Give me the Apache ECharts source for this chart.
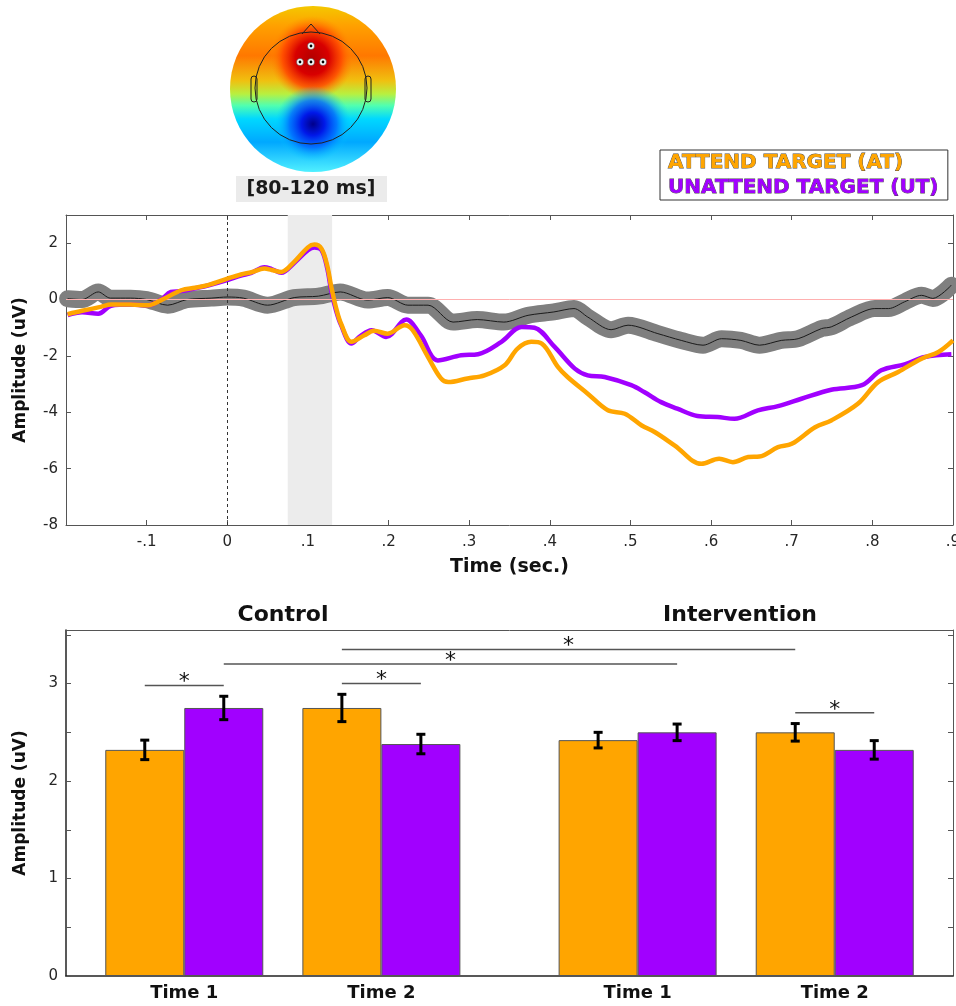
<!DOCTYPE html>
<html>
<head>
<meta charset="utf-8">
<title>Attend vs unattend target ERP</title>
<script src="https://cdn.jsdelivr.net/npm/echarts@6.0.0/dist/echarts.min.js"></script>
<style>
  html, body { margin: 0; padding: 0; background: #fff; }
  #chart { width: 956px; height: 1006px; }
</style>
</head>
<body>
<div id="chart"></div>
<script>
// ---- waveforms: [time (sec), amplitude (uV)] ----
const atWave = [
  [-0.198, -0.52], [-0.18, -0.4], [-0.157, -0.26], [-0.144, -0.18], [-0.12, -0.18],
  [-0.098, -0.2], [-0.082, -0.02], [-0.057, 0.33], [-0.04, 0.42], [-0.024, 0.51],
  [0.001, 0.75], [0.017, 0.89], [0.03, 0.97], [0.046, 1.1], [0.055, 1.05],
  [0.067, 0.98], [0.083, 1.34], [0.1, 1.85], [0.108, 1.95], [0.117, 1.8],
  [0.124, 1.2], [0.129, 0.45], [0.135, -0.3], [0.141, -0.85], [0.154, -1.5],
  [0.17, -1.27], [0.182, -1.11], [0.199, -1.21], [0.22, -0.91], [0.23, -1.09],
  [0.249, -2.04], [0.265, -2.8], [0.274, -2.93], [0.298, -2.8], [0.319, -2.69],
  [0.344, -2.33], [0.36, -1.74], [0.377, -1.5], [0.39, -1.56], [0.41, -2.39],
  [0.422, -2.75], [0.447, -3.34], [0.472, -3.93], [0.493, -4.05], [0.514, -4.47],
  [0.53, -4.7], [0.555, -5.18], [0.588, -5.83], [0.61, -5.65], [0.627, -5.77],
  [0.646, -5.59], [0.66, -5.57], [0.683, -5.24], [0.7, -5.12], [0.729, -4.53],
  [0.749, -4.29], [0.782, -3.7], [0.807, -2.93], [0.832, -2.57], [0.861, -2.1],
  [0.882, -1.86], [0.9, -1.45]
];
const utWave = [
  [-0.198, -0.55], [-0.18, -0.45], [-0.16, -0.5], [-0.144, -0.22], [-0.12, -0.18],
  [-0.098, -0.2], [-0.082, 0.0], [-0.07, 0.27], [-0.057, 0.3], [-0.04, 0.4],
  [-0.024, 0.5], [0.001, 0.7], [0.017, 0.85], [0.03, 0.95], [0.046, 1.15],
  [0.055, 1.08], [0.067, 0.95], [0.083, 1.3], [0.1, 1.75], [0.108, 1.85],
  [0.117, 1.75], [0.124, 1.1], [0.129, 0.3], [0.135, -0.4], [0.141, -0.9],
  [0.154, -1.56], [0.165, -1.3], [0.179, -1.09], [0.197, -1.33], [0.222, -0.71],
  [0.24, -1.27], [0.261, -2.16], [0.29, -1.98], [0.311, -1.94], [0.34, -1.5],
  [0.365, -0.97], [0.381, -1.0], [0.406, -1.68], [0.431, -2.45], [0.447, -2.69],
  [0.468, -2.75], [0.501, -3.04], [0.517, -3.28], [0.538, -3.64], [0.558, -3.87],
  [0.583, -4.13], [0.608, -4.17], [0.629, -4.23], [0.658, -3.93], [0.683, -3.78],
  [0.712, -3.52], [0.749, -3.2], [0.787, -3.04], [0.811, -2.51], [0.84, -2.3],
  [0.865, -2.04], [0.898, -1.94]
];
// grey trace (mean, drawn with a wide band behind it)
const greyWave = [
  [-0.198, 0.03], [-0.18, 0.0], [-0.16, 0.27], [-0.145, 0.05], [-0.12, 0.05],
  [-0.1, 0.0], [-0.074, -0.2], [-0.05, 0.0], [-0.02, 0.05], [0.0, 0.09],
  [0.02, 0.05], [0.05, -0.2], [0.083, 0.07], [0.113, 0.12], [0.14, 0.27],
  [0.174, -0.02], [0.199, 0.07], [0.224, -0.2], [0.249, -0.2], [0.28, -0.8],
  [0.31, -0.71], [0.343, -0.8], [0.373, -0.56], [0.405, -0.44], [0.43, -0.32],
  [0.447, -0.62], [0.476, -1.07], [0.497, -0.91], [0.534, -1.21], [0.563, -1.45],
  [0.59, -1.62], [0.613, -1.39], [0.637, -1.45], [0.66, -1.62], [0.687, -1.45],
  [0.708, -1.39], [0.737, -1.03], [0.749, -0.97], [0.774, -0.62], [0.803, -0.32],
  [0.82, -0.32], [0.84, -0.08], [0.861, 0.15], [0.875, 0.04], [0.898, 0.51]
];
const windowRange = [0.075, 0.13];

// ---- bar panel ----
const timeLabels = ['Time 1', 'Time 2', 'Time 1', 'Time 2'];
const groupPos = [1, 2, 3.3, 4.3];
const atMeans = [2.32, 2.75, 2.42, 2.5];
const atErr = [0.1, 0.14, 0.08, 0.09];
const utMeans = [2.75, 2.38, 2.5, 2.32];
const utErr = [0.12, 0.1, 0.085, 0.095];
// [bar a, condition a, bar b, condition b, height]; condition 0 = AT, 1 = UT
const sigPairs = [
  [0, 0, 0, 1, 2.98],
  [1, 0, 1, 1, 3.0],
  [0, 1, 2, 1, 3.2],
  [1, 0, 3, 0, 3.35],
  [3, 0, 3, 1, 2.7]
];

const ORANGE = '#ffa500';
const PURPLE = '#a100ff';
const FONT = 'DejaVu Sans';
const BAR_W = 79;

const chart = echarts.init(document.getElementById('chart'));

function xTickLabel(v) {
  if (Math.abs(v + 0.2) < 1e-9) return '';
  if (Math.abs(v) < 1e-9) return '0';
  return String(+v.toFixed(1)).replace('0.', '.');
}

function renderErrorBar(params, api) {
  const off = (api.value(3) === 0 ? -1 : 1) * BAR_W / 2;
  const top = api.coord([api.value(0), api.value(2)]);
  const bot = api.coord([api.value(0), api.value(1)]);
  const x = top[0] + off;
  const cap = 4.5;
  const style = { stroke: '#000', lineWidth: 3 };
  return {
    type: 'group',
    children: [
      { type: 'line', shape: { x1: x, y1: top[1], x2: x, y2: bot[1] }, style },
      { type: 'line', shape: { x1: x - cap, y1: top[1], x2: x + cap, y2: top[1] }, style },
      { type: 'line', shape: { x1: x - cap, y1: bot[1], x2: x + cap, y2: bot[1] }, style }
    ]
  };
}

function renderSig(params, api) {
  const a = api.coord([api.value(0), api.value(2)]);
  const b = api.coord([api.value(1), api.value(2)]);
  const xa = a[0] + (api.value(3) === 0 ? -1 : 1) * BAR_W / 2;
  const xb = b[0] + (api.value(4) === 0 ? -1 : 1) * BAR_W / 2;
  return {
    type: 'group',
    children: [
      { type: 'line', shape: { x1: xa, y1: a[1], x2: xb, y2: a[1] },
        style: { stroke: '#555', lineWidth: 1.5 } },
      { type: 'text', x: (xa + xb) / 2, y: a[1] - 3,
        style: { text: '*', font: '22px ' + FONT, fill: '#111',
                 align: 'center', verticalAlign: 'middle' } }
    ]
  };
}

const errData = [];
groupPos.forEach((x, i) => {
  errData.push([x, atMeans[i] - atErr[i], atMeans[i] + atErr[i], 0]);
  errData.push([x, utMeans[i] - utErr[i], utMeans[i] + utErr[i], 1]);
});
const sigData = sigPairs.map(s => [groupPos[s[0]], groupPos[s[2]], s[4], s[1], s[3]]);

const frame = { show: true, onZero: false, lineStyle: { color: '#555', width: 1 } };
const darkFrame = { show: true, onZero: false, lineStyle: { color: '#222', width: 1.5 } };
const tickIn = { show: true, inside: true, length: 5, lineStyle: { color: '#555' } };

// topographic map (illustration only)
const topo = [
  { type: 'circle', shape: { cx: 313, cy: 89, r: 83 },
    style: { fill: new echarts.graphic.LinearGradient(0, 0, 0, 1, [
      { offset: 0, color: '#f4c800' }, { offset: 0.12, color: '#ffa000' },
      { offset: 0.3, color: '#ff7800' }, { offset: 0.45, color: '#f0c010' },
      { offset: 0.53, color: '#b8f040' }, { offset: 0.6, color: '#50ffb0' },
      { offset: 0.68, color: '#00d8ff' }, { offset: 0.82, color: '#00a8ff' },
      { offset: 1, color: '#50f0ff' }]) } },
  { type: 'ellipse', shape: { cx: 312, cy: 58, rx: 72, ry: 42 },
    style: { fill: new echarts.graphic.RadialGradient(0.5, 0.5, 0.5, [
      { offset: 0, color: '#b40000' }, { offset: 0.4, color: '#d80000' },
      { offset: 0.7, color: 'rgba(255,70,0,0.85)' }, { offset: 1, color: 'rgba(255,140,0,0)' }]) } },
  { type: 'ellipse', shape: { cx: 313, cy: 124, rx: 72, ry: 38 },
    style: { fill: new echarts.graphic.RadialGradient(0.5, 0.5, 0.5, [
      { offset: 0, color: '#00008a' }, { offset: 0.3, color: '#0018e8' },
      { offset: 0.62, color: 'rgba(0,100,255,0.8)' }, { offset: 1, color: 'rgba(0,210,255,0)' }]) } },
  { type: 'circle', shape: { cx: 311, cy: 88, r: 56 }, style: { fill: null, stroke: '#222', lineWidth: 1 } },
  { type: 'polyline', shape: { points: [[302, 34], [311, 24], [320, 34]] }, style: { fill: null, stroke: '#222', lineWidth: 1 } },
  { type: 'rect', shape: { x: 251, y: 76, width: 6, height: 26, r: 3 }, style: { fill: null, stroke: '#222', lineWidth: 1 } },
  { type: 'rect', shape: { x: 365, y: 76, width: 6, height: 26, r: 3 }, style: { fill: null, stroke: '#222', lineWidth: 1 } }
];
[[311, 46], [300, 62], [311, 62], [323, 62]].forEach(p => {
  topo.push({ type: 'circle', shape: { cx: p[0], cy: p[1], r: 3.5 }, style: { fill: '#fff', stroke: '#333', lineWidth: 0.5 } });
  topo.push({ type: 'circle', shape: { cx: p[0], cy: p[1], r: 1.4 }, style: { fill: '#000' } });
});
topo.push({ type: 'rect', shape: { x: 236, y: 176, width: 151, height: 26 }, style: { fill: '#ebebeb' } });
topo.push({ type: 'text', x: 311, y: 189,
  style: { text: '[80-120 ms]', font: 'bold 19px ' + FONT, fill: '#1a1a1a', align: 'center', verticalAlign: 'middle' } });

chart.setOption({
  animation: false,
  backgroundColor: '#fff',
  textStyle: { fontFamily: FONT },
  legend: {
    orient: 'vertical',
    left: 660,
    top: 150,
    padding: [0, 9, 0, 3],
    itemWidth: 0,
    itemHeight: 0,
    itemGap: 0,
    selectedMode: false,
    borderColor: '#333',
    borderWidth: 1,
    backgroundColor: '#fff',
    textStyle: { fontFamily: FONT, fontWeight: 'bold', fontSize: 20, lineHeight: 25,
                 textBorderColor: '#4a4a4a', textBorderWidth: 0.8 },
    data: [
      { name: 'ATTEND TARGET (AT)', icon: 'none', textStyle: { color: ORANGE } },
      { name: 'UNATTEND TARGET (UT)', icon: 'none', textStyle: { color: PURPLE } }
    ]
  },
  graphic: topo.concat([
    { type: 'text', x: 283, y: 615,
      style: { text: 'Control', font: 'bold 22px ' + FONT, fill: '#111', align: 'center', verticalAlign: 'middle' } },
    { type: 'text', x: 740, y: 615,
      style: { text: 'Intervention', font: 'bold 22px ' + FONT, fill: '#111', align: 'center', verticalAlign: 'middle' } }
  ]),
  grid: [
    { left: 66, right: 3, top: 215, height: 310, outerBoundsMode: 'none', containLabel: false },
    { left: 66, right: 3, top: 630, height: 346, outerBoundsMode: 'none', containLabel: false }
  ],
  xAxis: [
    { gridIndex: 0, type: 'value', min: -0.2, max: 0.9, interval: 0.1, position: 'bottom',
      axisLine: frame, axisTick: tickIn, splitLine: { show: false },
      axisLabel: { formatter: xTickLabel, fontSize: 15, color: '#262626', margin: 10, showMaxLabel: true },
      name: 'Time (sec.)', nameLocation: 'middle', nameGap: 33,
      nameTextStyle: { fontWeight: 'bold', fontSize: 19, color: '#111' } },
    { gridIndex: 0, type: 'value', min: -0.2, max: 0.9, interval: 0.1, position: 'top',
      axisLine: frame, axisTick: tickIn, axisLabel: { show: false }, splitLine: { show: false } },
    { gridIndex: 1, type: 'value', min: 0.4, max: 4.9, position: 'bottom',
      axisLine: darkFrame, axisTick: { show: false }, splitLine: { show: false },
      axisLabel: { customValues: groupPos, formatter: v => timeLabels[groupPos.indexOf(v)] || '',
                   fontSize: 18, fontWeight: 'bold', color: '#111', margin: 8 } },
    { gridIndex: 1, type: 'value', min: 0.4, max: 4.9, position: 'top',
      axisLine: frame, axisTick: { show: false }, axisLabel: { show: false }, splitLine: { show: false } }
  ],
  yAxis: [
    { gridIndex: 0, type: 'value', min: -8, max: 3, interval: 2, position: 'left',
      axisLine: frame, axisTick: tickIn, splitLine: { show: false },
      axisLabel: { formatter: v => (v > 2 ? '' : String(v)), fontSize: 15, color: '#262626', margin: 8 },
      name: 'Amplitude (uV)', nameLocation: 'middle', nameGap: 37,
      nameTextStyle: { fontWeight: 'bold', fontSize: 17, color: '#111' } },
    { gridIndex: 0, type: 'value', min: -8, max: 3, interval: 2, position: 'right',
      axisLine: frame, axisTick: tickIn, axisLabel: { show: false }, splitLine: { show: false } },
    { gridIndex: 1, type: 'value', min: 0, max: 3.55, interval: 0.5, position: 'left',
      axisLine: darkFrame, axisTick: tickIn, splitLine: { show: false },
      axisLabel: { formatter: v => (Number.isInteger(v) ? String(v) : ''), fontSize: 15, color: '#262626', margin: 8 },
      name: 'Amplitude (uV)', nameLocation: 'middle', nameGap: 37,
      nameTextStyle: { fontWeight: 'bold', fontSize: 17, color: '#111' } },
    { gridIndex: 1, type: 'value', min: 0, max: 3.55, interval: 0.5, position: 'right',
      axisLine: frame, axisTick: tickIn, axisLabel: { show: false }, splitLine: { show: false } }
  ],
  series: [
    { type: 'line', name: 'window', xAxisIndex: 0, yAxisIndex: 0, data: [], silent: true, z: 1,
      markArea: { silent: true, itemStyle: { color: '#ececec' },
        data: [[{ xAxis: windowRange[0] }, { xAxis: windowRange[1] }]] },
      markLine: { silent: true, symbol: 'none', label: { show: false },
        data: [
          { yAxis: 0, lineStyle: { color: '#ffb0b0', width: 1, type: 'solid' } },
          { xAxis: 0, lineStyle: { color: '#333', width: 1, type: [3, 3] } }
        ] } },
    { type: 'line', name: 'grey band', xAxisIndex: 0, yAxisIndex: 0, data: greyWave,
      showSymbol: false, smooth: 0.3, silent: true, z: 2,
      lineStyle: { color: '#7f7f7f', width: 17, cap: 'round', join: 'round' } },
    { type: 'line', name: 'grey mean', xAxisIndex: 0, yAxisIndex: 0, data: greyWave,
      showSymbol: false, smooth: 0.3, silent: true, z: 3,
      lineStyle: { color: '#1a1a1a', width: 1 } },
    { type: 'line', name: 'UNATTEND TARGET (UT)', xAxisIndex: 0, yAxisIndex: 0, data: utWave,
      showSymbol: false, smooth: 0.35, z: 4, color: PURPLE,
      lineStyle: { color: PURPLE, width: 4.5, join: 'round' } },
    { type: 'line', name: 'ATTEND TARGET (AT)', xAxisIndex: 0, yAxisIndex: 0, data: atWave,
      showSymbol: false, smooth: 0.35, z: 5, color: ORANGE,
      lineStyle: { color: ORANGE, width: 4.5, join: 'round' } },

    { type: 'bar', name: 'AT bars', xAxisIndex: 2, yAxisIndex: 2,
      data: groupPos.map((x, i) => [x, atMeans[i]]),
      barWidth: BAR_W, barGap: '0%',
      itemStyle: { color: ORANGE, borderColor: '#555', borderWidth: 1 } },
    { type: 'bar', name: 'UT bars', xAxisIndex: 2, yAxisIndex: 2,
      data: groupPos.map((x, i) => [x, utMeans[i]]),
      barWidth: BAR_W, barGap: '0%',
      itemStyle: { color: PURPLE, borderColor: '#555', borderWidth: 1 } },
    { type: 'custom', name: 'error', xAxisIndex: 2, yAxisIndex: 2, data: errData,
      renderItem: renderErrorBar, encode: { x: 0, y: [1, 2] }, z: 5, clip: false },
    { type: 'custom', name: 'significance', xAxisIndex: 2, yAxisIndex: 2, data: sigData,
      renderItem: renderSig, encode: { x: [0, 1], y: 2 }, z: 5, clip: false }
  ]
});
</script>
</body>
</html>
